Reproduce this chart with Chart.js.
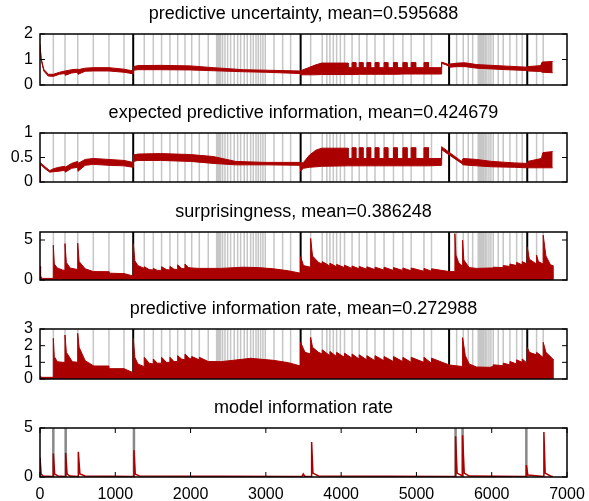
<!DOCTYPE html>
<html>
<head>
<meta charset="utf-8">
<title>information dynamics</title>
<script src="https://cdn.jsdelivr.net/npm/chart.js@4.4.1/dist/chart.umd.min.js"></script>
<style>
body {margin: 0; background: #fff; overflow: hidden;}
#wrap {position: relative; width: 589px; height: 501px; overflow: hidden;}
#wrap canvas {position: absolute; left: 0;}
</style>
</head>
<body>
<div id="wrap">
	<canvas id="c1" width="607" height="96" style="top:1px"></canvas>
	<canvas id="c2" width="607" height="94" style="top:100px"></canvas>
	<canvas id="c3" width="607" height="93" style="top:199px"></canvas>
	<canvas id="c4" width="607" height="95" style="top:296px"></canvas>
	<canvas id="c5" width="607" height="106" style="top:395px"></canvas>
</div>
<script>
// event times (grey), section boundaries (black), model changes (panel 5)
const events = [177, 332, 501, 708, 916, 1116, 1385, 1505, 1615, 1726, 1829, 1926, 2015, 2116, 2235,
	2346, 2364, 2381, 2399, 2426, 2457, 2492, 2532, 2580, 2625, 2665, 2713, 2753, 2798, 2833, 2869, 2899, 2930, 2961, 2992,
	3108, 3223, 3329, 3595, 3749, 3810, 3851, 3896, 3940, 3990, 4045, 4145, 4240, 4342, 4450, 4570, 4695, 4820, 4930, 5100, 5200,
	5534, 5622, 5688, 5747, 5821, 5839, 5857, 5874, 5892, 5914, 5936, 5963, 5989, 6020, 6087, 6153, 6242, 6331, 6405, 6596, 6684];
const sections = [1238, 3462, 5434, 6472];
const modelEvents = [177, 341, 1248, 5520, 5613, 6460];

// predictive uncertainty (band: upper / lower edge)
const unc_x = [0,15,50,110,177,260,330,335,420,500,
	505,600,708,916,1116,1236,1242,1300,1600,2000,
	2300,2700,3000,3455,3462,3550,3653,3741,4092,4092,
	4145,4145,4195,4195,4240,4240,4290,4290,4342,4342,
	4392,4392,4450,4450,4500,4500,4570,4570,4620,4620,
	4695,4695,4745,4745,4820,4820,4875,4875,4930,4930,
	4990,4990,5100,5100,5160,5160,5330,5335,5430,5440,
	5550,5650,5800,6000,6200,6465,6478,6650,6670,6810];
const unc_hi = [1.6,1.05,0.62,0.42,0.42,0.5,0.55,0.55,0.6,0.62,
	0.6,0.66,0.68,0.68,0.62,0.55,0.72,0.76,0.77,0.75,
	0.68,0.6,0.58,0.55,0.56,0.66,0.78,0.86,0.86,0.68,
	0.68,0.88,0.88,0.68,0.68,0.88,0.88,0.68,0.68,0.88,
	0.88,0.68,0.68,0.88,0.88,0.68,0.68,0.88,0.88,0.68,
	0.68,0.88,0.88,0.68,0.68,0.88,0.88,0.68,0.68,0.88,
	0.88,0.68,0.68,0.88,0.88,0.68,0.68,0.9,0.8,0.82,
	0.86,0.87,0.8,0.77,0.74,0.7,0.72,0.76,0.9,0.92];
const unc_lo = [1.5,1.0,0.55,0.35,0.34,0.42,0.45,0.38,0.47,0.5,
	0.42,0.54,0.55,0.55,0.5,0.44,0.58,0.6,0.6,0.59,
	0.56,0.52,0.5,0.45,0.4,0.4,0.4,0.41,0.41,0.41,
	0.41,0.41,0.41,0.41,0.42,0.42,0.42,0.42,0.42,0.42,
	0.42,0.42,0.42,0.42,0.42,0.42,0.42,0.42,0.42,0.42,
	0.42,0.42,0.42,0.42,0.43,0.43,0.43,0.43,0.43,0.43,
	0.43,0.43,0.43,0.43,0.43,0.43,0.43,0.85,0.75,0.7,
	0.72,0.72,0.66,0.63,0.6,0.57,0.55,0.53,0.5,0.48];

// expected predictive information (band)
const epi_x = [0,2,10,60,130,177,250,330,335,420,
	500,505,600,708,916,1116,1236,1242,1300,1600,
	2000,2300,2600,3000,3455,3462,3500,3580,3665,3741,
	4092,4092,4145,4145,4195,4195,4240,4240,4290,4290,
	4342,4342,4392,4392,4450,4450,4500,4500,4570,4570,
	4620,4620,4695,4695,4745,4745,4820,4820,4875,4875,
	4930,4930,4990,4990,5100,5100,5160,5160,5330,5335,
	5600,5620,5800,6000,6300,6465,6478,6660,6680,6810];
const epi_hi = [0.4,0.4,0.4,0.32,0.23,0.27,0.3,0.32,0.3,0.38,
	0.42,0.38,0.46,0.48,0.46,0.44,0.4,0.55,0.57,0.58,
	0.56,0.52,0.42,0.4,0.4,0.38,0.4,0.55,0.65,0.69,
	0.69,0.48,0.48,0.7,0.7,0.48,0.48,0.7,0.7,0.48,
	0.48,0.7,0.7,0.48,0.48,0.7,0.7,0.48,0.48,0.7,
	0.7,0.48,0.48,0.7,0.7,0.48,0.48,0.7,0.7,0.48,
	0.48,0.7,0.7,0.48,0.48,0.7,0.7,0.48,0.48,0.72,
	0.42,0.48,0.46,0.42,0.39,0.38,0.42,0.48,0.6,0.62];
const epi_lo = [0,0.36,0.36,0.28,0.2,0.21,0.22,0.24,0.2,0.28,
	0.3,0.22,0.34,0.36,0.34,0.33,0.3,0.42,0.44,0.44,
	0.42,0.38,0.35,0.35,0.34,0.23,0.28,0.3,0.31,0.32,
	0.33,0.33,0.33,0.33,0.33,0.33,0.33,0.33,0.33,0.33,
	0.33,0.33,0.33,0.33,0.33,0.33,0.33,0.33,0.33,0.33,
	0.33,0.33,0.33,0.33,0.33,0.33,0.33,0.33,0.33,0.33,
	0.33,0.33,0.33,0.33,0.33,0.33,0.33,0.33,0.34,0.66,
	0.38,0.35,0.33,0.31,0.3,0.29,0.29,0.29,0.29,0.29];

// surprisingness
const sur_x = [0,8,30,176,177,190,230,300,331,332,
	350,400,500,501,520,600,708,915,916,1116,
	1237,1239,1260,1300,1384,1385,1450,1504,1505,1560,
	1614,1615,1680,1725,1726,1780,1828,1829,1880,1925,
	1926,1970,2015,2116,2235,2400,2700,2900,3100,3300,
	3459,3461,3500,3594,3595,3620,3700,3748,3749,3850,
	3851,3939,3940,4044,4045,4144,4145,4239,4240,4341,
	4342,4449,4450,4569,4570,4694,4695,4819,4820,4929,
	4930,5099,5100,5199,5200,5436,5509,5511,5525,5560,
	5611,5613,5630,5700,5800,5976,6019,6020,6152,6153,
	6241,6242,6330,6331,6404,6405,6470,6472,6500,6594,
	6596,6620,6682,6684,6720,6780,6812,6813];
const sur_y = [1.7,0.5,0.2,0.2,4.35,2.0,1.5,1.25,1.2,4.55,
	2.2,1.5,1.3,4.6,2.3,1.4,1.05,1.04,0.85,0.8,
	0.5,4.55,2.4,1.8,1.45,1.66,1.3,1.25,1.45,1.2,
	1.2,1.66,1.3,1.25,1.7,1.35,1.3,1.9,1.45,1.4,
	2.0,1.55,1.5,1.45,1.45,1.45,1.6,1.55,1.4,1.15,
	0.85,2.9,1.8,1.6,5.2,3.0,2.2,2.0,2.3,1.75,
	2.1,1.65,1.95,1.55,1.85,1.45,1.75,1.4,1.7,1.35,
	1.65,1.3,1.6,1.25,1.6,1.2,1.55,1.2,1.5,1.15,
	1.5,1.1,1.45,1.1,1.4,1.05,1.05,5.8,3.1,2.2,
	1.7,4.97,2.5,1.55,1.45,1.5,1.5,1.6,1.55,1.8,
	1.7,2.0,1.8,2.2,1.9,2.3,2.0,4.14,2.6,2.0,
	3.1,2.3,2.0,5.6,3.0,1.9,1.8,0];

// predictive information rate
const pir_x = [0,10,176,177,190,230,300,331,332,350,
	430,500,501,520,600,707,708,916,917,1116,
	1237,1239,1260,1300,1384,1385,1450,1504,1505,1560,
	1614,1615,1680,1725,1726,1780,1828,1829,1880,1925,
	1926,1980,2014,2015,2115,2116,2235,2400,2600,2800,
	2900,3100,3300,3459,3461,3520,3594,3595,3620,3700,
	3748,3749,3850,3851,3939,3940,4044,4045,4144,4145,
	4239,4240,4341,4342,4449,4450,4569,4570,4694,4695,
	4819,4820,4929,4930,5099,5100,5199,5200,5436,5612,
	5613,5650,5700,5800,5976,6019,6020,6152,6153,6241,
	6242,6330,6331,6404,6405,6470,6472,6500,6594,6596,
	6682,6684,6720,6812,6813];
const pir_y = [0.15,0.1,0.1,2.44,1.34,1.04,1.0,1.0,2.64,1.6,
	1.04,1.0,2.74,1.9,1.1,0.8,0.78,0.78,0.62,0.62,
	0.38,2.44,1.3,0.9,0.74,1.3,0.95,0.9,1.2,0.95,
	0.95,1.3,1.0,1.0,1.3,1.05,1.05,1.4,1.2,1.15,
	1.5,1.25,1.2,1.35,1.15,1.3,1.05,1.04,1.14,1.24,
	1.2,1.12,0.98,0.78,2.2,1.6,1.5,2.5,1.9,1.6,
	1.5,1.75,1.4,1.65,1.35,1.6,1.3,1.55,1.25,1.5,
	1.2,1.45,1.15,1.4,1.1,1.4,1.1,1.35,1.05,1.35,
	1.05,1.3,1.0,1.3,1.0,1.3,0.95,1.25,0.84,0.75,
	2.48,1.4,0.9,0.72,0.7,0.75,0.85,0.8,0.95,0.85,
	1.05,0.9,1.15,1.0,1.2,0.95,1.9,1.6,1.45,1.6,
	1.3,2.2,1.6,1.2,0];

// model information rate
const mir_x = [0,15,40,176,177,195,240,340,341,360,
	400,508,509,530,600,1247,1248,1265,1320,3480,
	3497,3520,3607,3608,3625,3700,5519,5520,5540,5612,
	5613,5635,5700,6459,6460,6480,6692,6693,6710,6780,6810];
const mir_y = [2.0,0.3,0.1,0.05,2.4,0.3,0.1,0.05,2.46,0.3,
	0.1,0.05,2.57,0.3,0.1,0.05,2.74,0.3,0.1,0.05,
	0.3,0.05,0.05,3.58,0.4,0.1,0.05,4.16,0.4,0.1,
	4.26,0.4,0.1,0.05,1.22,0.2,0.05,4.6,0.4,0.1,0.05];

// tick labels
const xTicks = [0, 1000, 2000, 3000, 4000, 5000, 6000, 7000];
const ticksUnc = [0, 1, 2];
const ticksEpi = [0, 0.5, 1];
const ticksSur = [0, 5];
const ticksPir = [0, 1, 2, 3];
const ticksMir = [0, 5];

const RED = '#aa0000';
Chart.defaults.font.family = "'Liberation Sans', Arial, Helvetica, sans-serif";
Chart.defaults.color = '#000';

function pts(xs, ys) {
	return xs.map(function (v, i) { return {x: v, y: ys[i]}; });
}

// vertical event lines behind the data
const linesPlugin = {
	id: 'eventLines',
	beforeDatasetsDraw(chart, args, o) {
		const ctx = chart.ctx, a = chart.chartArea, x = chart.scales.x;
		ctx.save();
		ctx.beginPath();
		ctx.rect(a.left, a.top, a.width, a.height);
		ctx.clip();
		(o.groups || []).forEach(function (g) {
			ctx.strokeStyle = g.color;
			ctx.lineWidth = g.width;
			ctx.beginPath();
			g.at.forEach(function (v) {
				const px = x.getPixelForValue(v);
				ctx.moveTo(px, a.top);
				ctx.lineTo(px, a.bottom);
			});
			ctx.stroke();
		});
		ctx.restore();
	}
};

// matlab style box with inward ticks
const framePlugin = {
	id: 'frame',
	afterDatasetsDraw(chart, args, o) {
		const ctx = chart.ctx, a = chart.chartArea, x = chart.scales.x, y = chart.scales.y;
		ctx.save();
		ctx.strokeStyle = '#000';
		ctx.lineWidth = 1;
		ctx.beginPath();
		y.ticks.forEach(function (t) {
			const py = y.getPixelForValue(t.value);
			ctx.moveTo(a.left, py); ctx.lineTo(a.left + 5, py);
			ctx.moveTo(a.right, py); ctx.lineTo(a.right - 5, py);
		});
		if (o.xTicks) {
			x.ticks.forEach(function (t) {
				const px = x.getPixelForValue(t.value);
				ctx.moveTo(px, a.bottom); ctx.lineTo(px, a.bottom - 5);
				ctx.moveTo(px, a.top); ctx.lineTo(px, a.top + 5);
			});
		}
		ctx.stroke();
		ctx.lineWidth = 1.5;
		ctx.strokeRect(a.left, a.top, a.width, a.height);
		ctx.restore();
	}
};

// canvas is 607 wide (clipped by the wrapper): a blank right axis as wide as the
// left one keeps the title centred over the plot box like in the original
function panel(id, title, datasets, yMax, yTicks, groups, showX) {
	return new Chart(document.getElementById(id), {
		type: 'line',
		data: {datasets: datasets},
		options: {
			responsive: false,
			animation: false,
			events: [],
			layout: {padding: {left: 0, right: 0, top: 0, bottom: showX ? 0 : 12}},
			elements: {point: {radius: 0}, line: {borderWidth: 1, tension: 0}},
			scales: {
				x: {
					type: 'linear', min: 0, max: 7000, display: showX,
					grid: {display: false, drawTicks: false},
					border: {display: false},
					ticks: {padding: 8, font: {size: 16}, maxRotation: 0, autoSkip: false, callback: function (v) { return String(v); }},
					afterBuildTicks: function (s) { s.ticks = xTicks.map(function (v) { return {value: v}; }); },
					afterFit: function (s) { s.height = showX ? 24 : 0; }
				},
				y: {
					type: 'linear', min: 0, max: yMax,
					grid: {display: false, drawTicks: false},
					border: {display: false},
					ticks: {padding: 7, font: {size: 16}, autoSkip: false, callback: function (v) { return String(v); }},
					afterBuildTicks: function (s) { s.ticks = yTicks.map(function (v) { return {value: v}; }); },
					afterFit: function (s) { s.width = 40; s.paddingTop = 0; s.paddingBottom = 0; }
				},
				yRight: {
					type: 'linear', position: 'right', min: 0, max: yMax,
					grid: {display: false, drawTicks: false},
					border: {display: false},
					ticks: {display: false},
					afterFit: function (s) { s.width = 40; s.paddingTop = 0; s.paddingBottom = 0; }
				}
			},
			plugins: {
				legend: {display: false},
				tooltip: {enabled: false},
				title: {display: true, text: title, color: '#000', font: {size: 18, weight: 'normal'}, padding: {top: 2, bottom: 9.4}},
				eventLines: {groups: groups},
				frame: {xTicks: showX}
			}
		},
		plugins: [linesPlugin, framePlugin]
	});
}

const greyLines = [{at: events, color: '#c6c6c6', width: 1.5}, {at: sections, color: '#000', width: 2}];

panel('c1', 'predictive uncertainty, mean=0.595688', [
	{data: pts(unc_x, unc_hi), borderColor: RED, backgroundColor: RED, fill: '+1'},
	{data: pts(unc_x, unc_lo), borderColor: RED, fill: false}
], 2, ticksUnc, greyLines, false);

panel('c2', 'expected predictive information, mean=0.424679', [
	{data: pts(epi_x, epi_hi), borderColor: RED, backgroundColor: RED, fill: '+1'},
	{data: pts(epi_x, epi_lo), borderColor: RED, fill: false}
], 1, ticksEpi, greyLines, false);

panel('c3', 'surprisingness, mean=0.386248', [
	{data: pts(sur_x, sur_y), borderColor: RED, backgroundColor: RED, fill: 'origin'}
], 6, ticksSur, greyLines, false);

panel('c4', 'predictive information rate, mean=0.272988', [
	{data: pts(pir_x, pir_y), borderColor: RED, backgroundColor: RED, fill: 'origin'}
], 3, ticksPir, greyLines, false);

panel('c5', 'model information rate', [
	{data: pts(mir_x, mir_y), borderColor: RED, borderWidth: 1.5, fill: false}
], 5, ticksMir, [{at: modelEvents, color: '#888888', width: 2.5}], true);
</script>
</body>
</html>
